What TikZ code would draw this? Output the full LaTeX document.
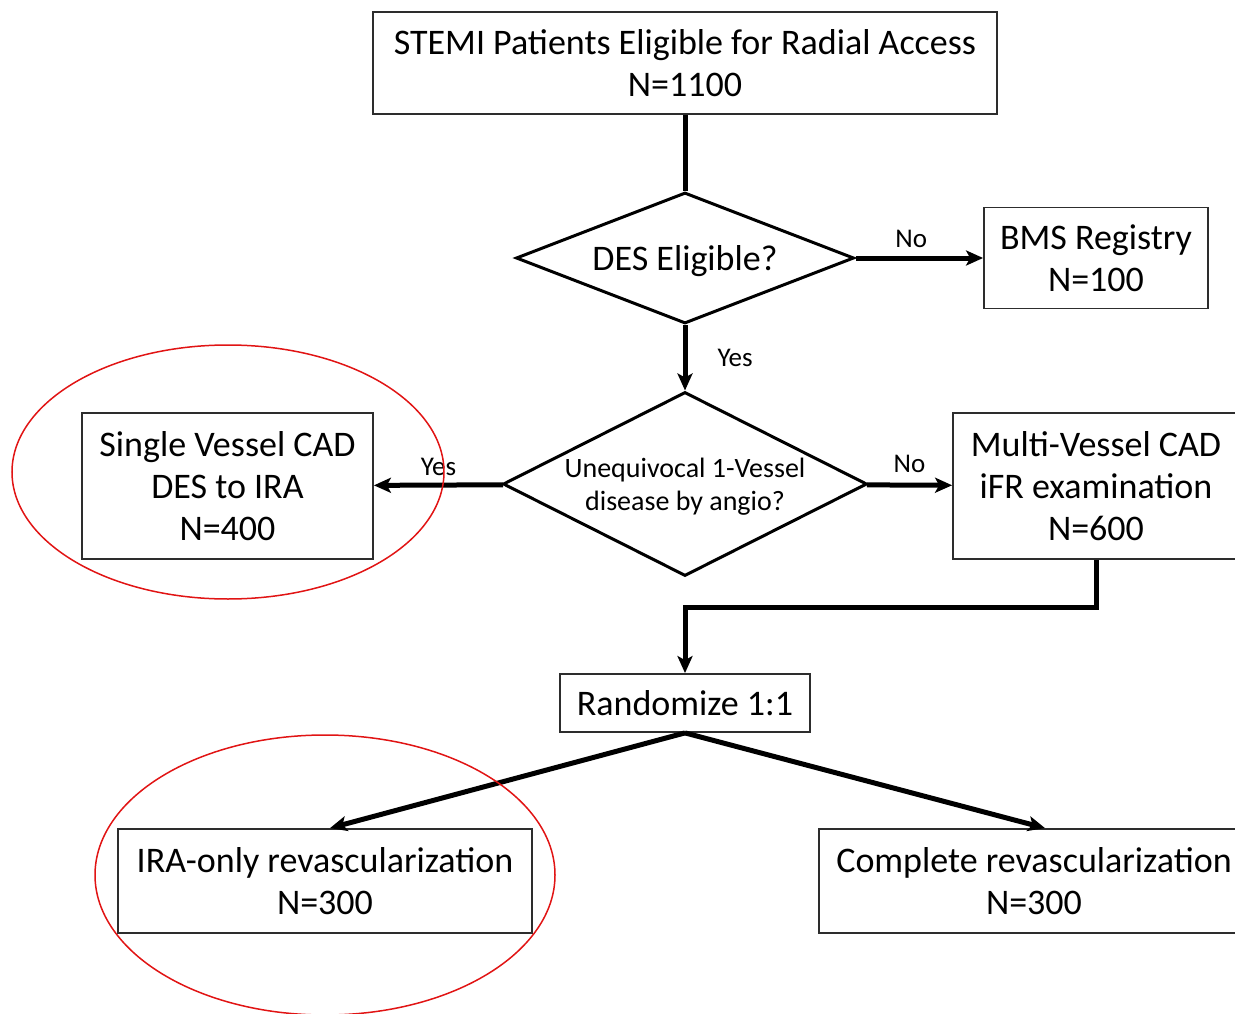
\documentclass[tikz,border=0pt]{standalone}
\usepackage{fontspec}
\setmainfont{Carlito}
\usepackage{tikz}
\usetikzlibrary{arrows.meta,positioning,calc,shapes.geometric}
\definecolor{boxgray}{RGB}{45,45,45}
\definecolor{ringred}{RGB}{225,20,20}
\tikzset{
  stepbox/.style={draw=boxgray, line width=1.8pt, fill=white, inner sep=0pt, align=center,
    font=\fontsize{36}{42}\selectfont},
  decide/.style={diamond, draw=black, line width=3pt, fill=white, inner sep=0pt, align=center,
    text depth=0pt},
  link/.style={line width=5pt, black},
  arr/.style={link, -{Stealth[length=17pt,width=15pt,inset=4pt]}},
  lbl/.style={font=\fontsize{27}{32}\selectfont, inner sep=2pt},
  ring/.style={draw=ringred, line width=1.5pt},
}
\begin{document}
\begin{tikzpicture}[x=1pt,y=-1pt]
  \useasboundingbox (0,0) rectangle (1235,1014);
  % boxes and decisions
  \node[stepbox, minimum width=624pt, minimum height=102pt] (top) at (685,63)
    {STEMI Patients Eligible for Radial Access\\N=1100};
  \node[decide, aspect=2.58, minimum width=338pt, minimum height=131pt,
    font=\fontsize{36}{42}\selectfont] (des) at (685,258) {DES Eligible?};
  \node[stepbox, minimum width=224pt, minimum height=101pt] (bms) at (1096,258)
    {BMS Registry\\N=100};
  \node[decide, aspect=1.98, minimum width=364pt, minimum height=184pt,
    font=\fontsize{28}{33}\selectfont] (onev) at (685,484)
    {Unequivocal 1-Vessel\\disease by angio?};
  \node[stepbox, minimum width=291pt, minimum height=146pt] (single) at (227.5,486)
    {Single Vessel CAD\\DES to IRA\\N=400};
  \node[stepbox, minimum width=286pt, minimum height=146pt] (multi) at (1096,486)
    {Multi-Vessel CAD\\iFR examination\\N=600};
  \node[stepbox, minimum width=250pt, minimum height=58pt] (rand) at (685,703)
    {Randomize 1:1};
  \node[stepbox, minimum width=414pt, minimum height=104pt] (ira) at (325,881)
    {IRA-only revascularization\\N=300};
  \node[stepbox, minimum width=430pt, minimum height=104pt] (comp) at (1034,881)
    {Complete revascularization\\N=300};
  % connectors
  \coordinate (bend) at (685,607);
  \draw[link] (top) -- (des);
  \draw[arr] (des) -- node[lbl, above=6pt, xshift=-8pt]{No} (bms);
  \draw[arr] (des) -- node[lbl, right=28pt]{Yes} (onev);
  \draw[arr] (onev) -- node[lbl, above=5pt]{Yes} (single);
  \draw[arr] (onev) -- node[lbl, above=8pt]{No} (multi);
  \draw[arr] (multi.south) |- (bend) -- (rand);
  \draw[arr] (rand.south) -- ([xshift=5pt]ira.north);
  \draw[arr] (rand.south) -- ([xshift=11pt]comp.north);
  % red marks
  \draw[ring] (228,472) ellipse [x radius=216pt, y radius=127pt];
  \draw[ring] (325,875) ellipse [x radius=230pt, y radius=140pt];
\end{tikzpicture}
\end{document}
